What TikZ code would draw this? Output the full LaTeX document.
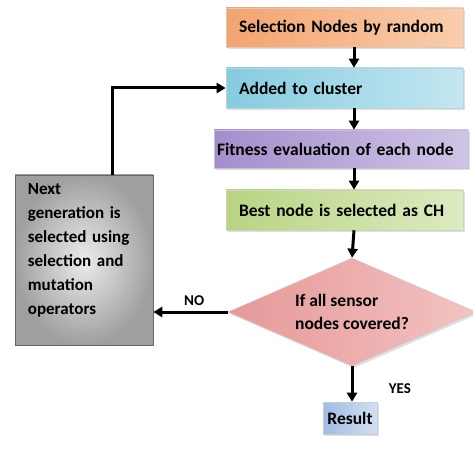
\documentclass[tikz,border=0pt]{standalone}
\usepackage{fontspec}
\setmainfont{Carlito}
\usetikzlibrary{arrows.meta,shapes.geometric,shadows}

\definecolor{orA}{HTML}{F2A470}\definecolor{orB}{HTML}{F9CDAE}
\definecolor{blA}{HTML}{86CBE0}\definecolor{blB}{HTML}{C4E7F1}
\definecolor{puA}{HTML}{A38ECC}\definecolor{puB}{HTML}{D0C4E6}
\definecolor{grA}{HTML}{B8D483}\definecolor{grB}{HTML}{DDEAC2}
\definecolor{pkA}{HTML}{E69898}\definecolor{pkB}{HTML}{F3C3C3}
\definecolor{rsA}{HTML}{A0BCE4}\definecolor{rsB}{HTML}{D3DFF1}

\tikzset{
  flowbox/.style={rectangle, draw=#1, line width=0.6pt, inner ysep=0pt,
    font=\bfseries\fontsize{17.5}{20}\selectfont, align=left,
    drop shadow={shadow xshift=2pt, shadow yshift=-2pt, opacity=0.25}},
  arr/.style={line width=3pt, -{Triangle[length=9pt,width=10pt]}},
  lbl/.style={font=\bfseries\fontsize{15}{17}\selectfont}
}

\begin{document}
\begin{tikzpicture}[x=1pt,y=-1pt]
\useasboundingbox (0,0) rectangle (473,454);

% process steps
\node[flowbox=orA!70!black!40, left color=orA, right color=orB,
      minimum width=237pt, minimum height=39pt, inner xsep=13pt,
      text width=211pt] (sel) at (344.5,27.5) {Selection Nodes by random};
\node[flowbox=blA!70!black!40, left color=blA, right color=blB,
      minimum width=237pt, minimum height=40pt, inner xsep=13pt,
      text width=211pt] (add) at (344.5,88) {Added to cluster};
\node[flowbox=puA!70!black!40, left color=puA, right color=puB,
      minimum width=254pt, minimum height=38pt, inner xsep=3pt,
      text width=248pt] (fit) at (341,149) {Fitness evaluation of each node};
\node[flowbox=grA!70!black!40, left color=grA, right color=grB,
      minimum width=237pt, minimum height=40pt, inner xsep=13pt,
      text width=211pt] (best) at (344.5,210) {Best node is selected as CH};

% decision
\node[diamond, draw=pkA!70!black!40, line width=0.6pt, left color=pkA, right color=pkB,
      minimum width=248pt, minimum height=108pt, inner sep=0pt, shape aspect=2.3,
      drop shadow={shadow xshift=2pt, shadow yshift=-2pt, opacity=0.25},
      font=\bfseries\fontsize{17.5}{23}\selectfont, align=left] (dec) at (352,312)
      {If all sensor\\nodes covered?};

% result
\node[flowbox=rsA!70!black!40, left color=rsA, right color=rsB,
      minimum width=54pt, minimum height=32pt, inner xsep=4pt, align=center]
      (res) at (350,418) {Result};

% next generation
\node[rectangle, draw=gray!80!black, line width=0.6pt,
      inner color=gray!15, outer color=gray!75,
      minimum width=138pt, minimum height=170pt] (gen) at (84,260) {};
\node[anchor=north west, inner sep=0pt, text width=122pt, align=left,
      font=\bfseries\fontsize{17}{24}\selectfont]
      (gentxt) at ([xshift=13pt,yshift=-9pt]gen.north west)
      {Next\\generation is\\selected using\\selection and\\mutation\\operators};

% connectors
\coordinate (ax) at (354,0);
\coordinate (lx) at (112,0);
\draw[arr] (sel.south -| ax) -- (add.north -| ax);
\draw[arr] (add.south -| ax) -- (fit.north -| ax);
\draw[arr] (fit.south -| ax) -- (best.north -| ax);
\draw[arr] (best.south -| ax) -- (dec.north);
\draw[arr] (dec.south) -- node[lbl, right=32pt, pos=0.62] (yes) {YES} (res.north -| dec.south);
\draw[arr] (dec.west) -- node[lbl, above=2pt, pos=0.45] (no) {NO} (gen.east |- dec.west);
\draw[arr] (gen.north -| lx) |- (add.west);
\end{tikzpicture}
\end{document}
